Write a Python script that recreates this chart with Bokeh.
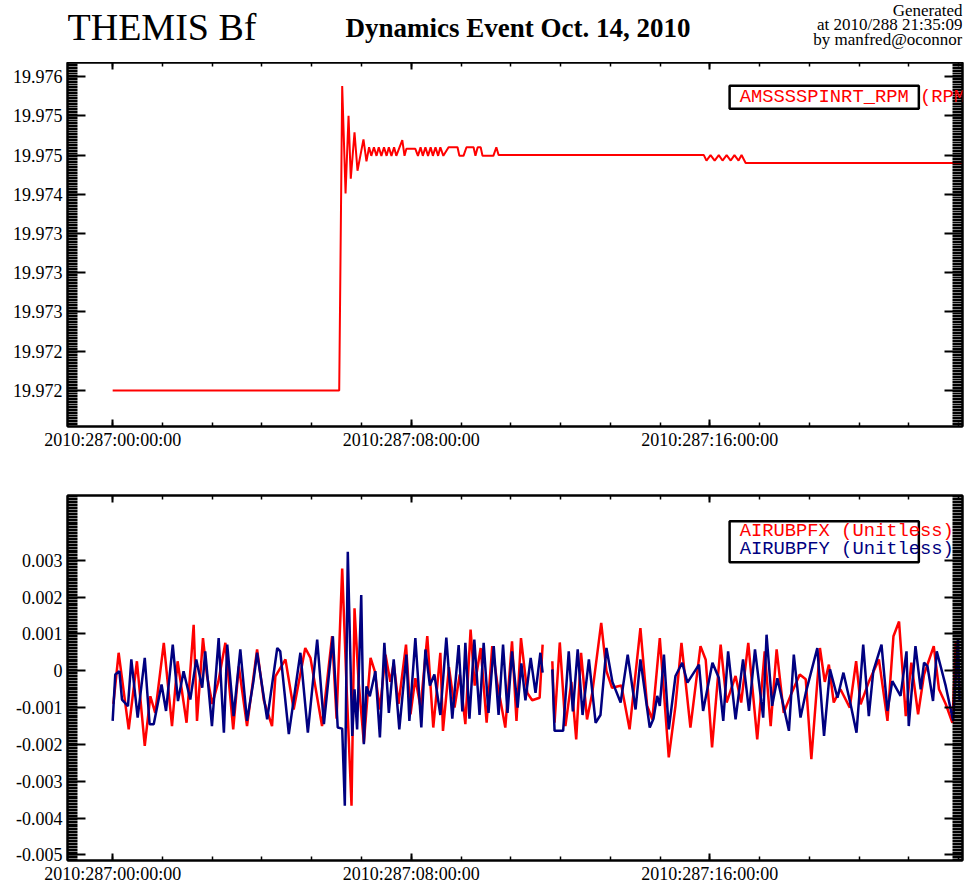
import numpy as np
from bokeh.plotting import figure
from bokeh.layouts import column
from bokeh.models import (LinearAxis, FixedTicker, Range1d, Label, BoxAnnotation,
                          CustomJSTickFormatter, ColumnDataSource)
from bokeh.embed import file_html
from bokeh.resources import INLINE

# ---------------- data ----------------
x_major_ticks = [0, 8, 16]
x_tick_labels = ["2010:287:00:00:00", "2010:287:08:00:00", "2010:287:16:00:00"]

rpm_ticks = [19.9720, 19.9725, 19.9730, 19.9735, 19.9740, 19.9745, 19.9750, 19.9755, 19.9760]
rpm_tick_labels = ["19.972", "19.972", "19.973", "19.973", "19.973", "19.974", "19.975", "19.975", "19.976"]

bp_ticks = [-0.005, -0.004, -0.003, -0.002, -0.001, 0.0, 0.001, 0.002, 0.003]
bp_tick_labels = ["-0.005", "-0.004", "-0.003", "-0.002", "-0.001", "0", "0.001", "0.002", "0.003"]

# AMSSSSPINRT_RPM (hours since 2010:287:00:00:00, RPM)
rpm_hours = [0.00, 6.07, 6.15, 6.24, 6.32, 6.38, 6.48, 6.56, 6.72, 6.80,
             6.87, 6.93, 7.00, 7.07, 7.13, 7.20, 7.27, 7.34, 7.40, 7.47,
             7.54, 7.60, 7.67, 7.76, 7.82, 7.87, 8.11, 8.18, 8.25, 8.31,
             8.38, 8.45, 8.52, 8.58, 8.65, 8.72, 8.78, 8.86, 9.00, 9.24,
             9.29, 9.40, 9.48, 9.67, 9.72, 9.78, 9.86, 9.91, 10.20, 10.28,
             10.34, 15.84, 15.91, 16.02, 16.13, 16.24, 16.34, 16.45, 16.56, 16.66,
             16.77, 16.85, 16.96, 22.77]
rpm_values = [19.97200, 19.97200, 19.97588, 19.97451, 19.97550, 19.97470, 19.97529, 19.97480, 19.97520, 19.97492,
              19.97510, 19.97499, 19.97510, 19.97499, 19.97510, 19.97499, 19.97510, 19.97499, 19.97510, 19.97499,
              19.97510, 19.97499, 19.97508, 19.97519, 19.97499, 19.97508, 19.97508, 19.97499, 19.97510, 19.97499,
              19.97510, 19.97499, 19.97510, 19.97499, 19.97510, 19.97499, 19.97510, 19.97499, 19.97510, 19.97510,
              19.97499, 19.97499, 19.97510, 19.97510, 19.97499, 19.97510, 19.97510, 19.97499, 19.97499, 19.97510,
              19.97500, 19.97500, 19.97493, 19.97500, 19.97493, 19.97500, 19.97493, 19.97500, 19.97493, 19.97500,
              19.97493, 19.97500, 19.97490, 19.97490]

NAN = float("nan")

# AIRUBPFX (unitless)
bpfx_hours = [0.02, 0.16, 0.43, 0.65, 0.86, 1.01, 1.14, 1.37, 1.59, 1.74,
              1.98, 2.17, 2.26, 2.42, 2.53, 2.67, 2.83, 3.02, 3.23, 3.38,
              3.60, 3.87, 4.05, 4.27, 4.36, 4.63, 4.85, 5.16, 5.30, 5.61,
              5.88, 6.00, 6.15, 6.27, 6.40, 6.48, 6.59, 6.73, 6.91, 7.02,
              7.16, 7.31, 7.44, 7.53, 7.66, 7.86, 7.98, 8.11, 8.25, 8.43,
              8.59, 8.78, 8.85, 9.01, 9.16, 9.30, 9.45, 9.59, 9.70, 9.86,
              10.02, 10.17, 10.30, 10.52, 10.70, 10.82, 10.94, 11.11, 11.24, 11.44,
              11.52, 11.65, 11.78, 11.84, 11.98, 12.13, 12.29, 12.42, 12.55, 12.71,
              12.85, 13.09, 13.23, 13.38, 13.63, 13.85, 14.14, 14.32, 14.46, 14.66,
              14.90, 15.08, 15.24, 15.48, 15.75, 15.89, 16.06, 16.29, 16.45, 16.69,
              16.84, 17.03, 17.27, 17.47, 17.63, 17.79, 17.98, 18.16, 18.41, 18.57,
              18.72, 18.95, 19.08, 19.19, 19.32, 19.50, 19.75, 19.92, 20.04, 20.26,
              20.53, 20.76, 20.92, 21.07, 21.25, 21.40, 21.58, 21.74, 22.00, 22.14,
              22.32, 22.50, 22.59, 22.69]
bpfx_values = [-0.00090, 0.00049, -0.00159, 0.00026, -0.00204, -0.00069, -0.00114, 0.00076, -0.00150, 0.00026,
               -0.00141, 0.00125, -0.00136, 0.00089, -0.00015, -0.00090, -0.00030, 0.00076, -0.00159, 0.00012,
               -0.00150, 0.00058, -0.00080, -0.00150, -0.00015, 0.00031, -0.00105, 0.00062, 0.00035, -0.00150,
               0.00094, -0.00130, 0.00278, -0.00050, -0.00366, 0.00170, -0.00030, -0.00195, 0.00035, 0.00000,
               -0.00105, 0.00044, -0.00030, 0.00020, -0.00090, 0.00071, -0.00118, -0.00020, -0.00100, 0.00094,
               -0.00154, 0.00049, -0.00163, 0.00010, -0.00100, -0.00010, -0.00145, 0.00112, -0.00040, 0.00062,
               -0.00141, 0.00067, -0.00030, -0.00154, 0.00080, -0.00136, 0.00089, -0.00060, -0.00080, -0.00073,
               0.00071, NAN, 0.00026, -0.00141, 0.00077, -0.00150, -0.00030, -0.00186, 0.00049, -0.00132,
               -0.00060, 0.00130, -0.00001, -0.00046, -0.00040, -0.00159, 0.00116, -0.00095, -0.00132, 0.00089,
               -0.00235, -0.00095, 0.00076, -0.00154, 0.00067, 0.00030, -0.00208, 0.00071, -0.00086, -0.00014,
               -0.00086, 0.00076, -0.00186, 0.00053, -0.00150, 0.00058, -0.00114, -0.00068, -0.00010, -0.00023,
               -0.00240, 0.00062, -0.00030, 0.00017, -0.00086, -0.00050, -0.00100, 0.00026, -0.00091, -0.00030,
               0.00031, -0.00136, 0.00094, 0.00134, -0.00123, 0.00022, -0.00118, -0.00010, 0.00067, -0.00050,
               -0.00090, -0.00141, 0.00076, -0.00050]

# AIRUBPFY (unitless)
bpfy_hours = [0.00, 0.07, 0.18, 0.25, 0.41, 0.50, 0.67, 0.86, 0.99, 1.10,
              1.31, 1.43, 1.61, 1.75, 1.90, 2.08, 2.24, 2.40, 2.48, 2.66,
              2.84, 2.98, 3.07, 3.24, 3.42, 3.60, 3.77, 3.87, 4.14, 4.41,
              4.49, 4.72, 5.03, 5.23, 5.48, 5.66, 5.90, 6.03, 6.15, 6.22,
              6.30, 6.42, 6.48, 6.55, 6.66, 6.73, 6.80, 6.89, 7.04, 7.16,
              7.28, 7.40, 7.53, 7.68, 7.87, 7.95, 8.11, 8.27, 8.38, 8.50,
              8.62, 8.78, 8.94, 9.10, 9.27, 9.37, 9.45, 9.56, 9.69, 9.83,
              9.94, 10.07, 10.21, 10.34, 10.46, 10.58, 10.70, 10.85, 10.95, 11.06,
              11.20, 11.33, 11.46, 11.52, 11.65, 11.78, 11.84, 12.07, 12.22, 12.33,
              12.46, 12.59, 12.76, 12.94, 13.07, 13.23, 13.39, 13.61, 13.80, 14.01,
              14.14, 14.39, 14.49, 14.59, 14.66, 14.77, 14.90, 15.08, 15.26, 15.40,
              15.71, 15.82, 16.07, 16.24, 16.36, 16.49, 16.69, 16.89, 17.05, 17.21,
              17.43, 17.52, 17.67, 17.81, 18.12, 18.25, 18.43, 18.57, 18.88, 19.06,
              19.22, 19.42, 19.58, 19.77, 19.93, 20.11, 20.26, 20.38, 20.60, 20.76,
              20.89, 21.11, 21.27, 21.33, 21.51, 21.65, 21.74, 21.83, 21.98, 22.08,
              22.32, 22.52, 22.65, 22.69]
bpfy_values = [-0.00136, -0.00010, -0.00001, -0.00078, -0.00096, 0.00031, -0.00127, 0.00035, -0.00145, -0.00145,
               -0.00037, -0.00109, 0.00071, -0.00082, -0.00001, -0.00078, 0.00031, -0.00046, 0.00053, -0.00150,
               0.00089, -0.00168, 0.00071, -0.00123, 0.00058, -0.00136, -0.00030, 0.00049, -0.00132, 0.00062,
               0.00053, -0.00172, 0.00049, -0.00168, 0.00085, -0.00145, 0.00094, -0.00154, -0.00157, -0.00366,
               0.00323, -0.00177, -0.00050, -0.00159, 0.00206, -0.00199, -0.00042, -0.00069, -0.00001, -0.00181,
               0.00076, -0.00114, 0.00031, -0.00159, 0.00044, -0.00136, 0.00089, -0.00154, 0.00058, -0.00040,
               -0.00010, -0.00120, 0.00090, -0.00130, 0.00070, -0.00110, 0.00076, -0.00130, 0.00085, -0.00120,
               0.00076, -0.00114, 0.00067, -0.00120, 0.00071, -0.00114, 0.00053, -0.00100, 0.00020, -0.00080,
               0.00035, -0.00060, 0.00049, -0.00005, NAN, 0.00004, -0.00163, -0.00163, 0.00053, -0.00110,
               0.00058, -0.00120, 0.00031, -0.00141, -0.00120, 0.00062, -0.00030, -0.00086, 0.00044, -0.00105,
               0.00031, -0.00154, -0.00130, -0.00068, -0.00095, 0.00044, -0.00159, -0.00014, 0.00022, -0.00032,
               0.00017, -0.00109, 0.00022, -0.00019, -0.00136, 0.00053, -0.00132, 0.00031, -0.00109, 0.00058,
               -0.00127, 0.00098, -0.00095, -0.00020, -0.00163, 0.00044, -0.00127, -0.00060, 0.00062, -0.00177,
               0.00004, -0.00073, -0.00005, -0.00090, -0.00168, 0.00071, -0.00123, -0.00001, 0.00071, -0.00109,
               -0.00028, -0.00068, 0.00053, -0.00150, 0.00067, -0.00050, 0.00022, 0.00013, -0.00082, 0.00053,
               -0.00041, -0.00136, 0.00089, -0.00080]

# ---------------- styling helpers ----------------
SERIF = "Liberation Serif"
MONO = "Liberation Mono"
RED = "#ff0000"
NAVY = "#000080"


def labels_formatter(labels):
    return CustomJSTickFormatter(args=dict(labels=labels), code="return labels[index];")


def style_axis(ax, tick_in, minor_in, show_labels=True):
    ax.axis_line_color = "black"
    ax.axis_line_width = 2
    ax.major_tick_line_color = "black"
    ax.major_tick_line_width = 2
    ax.minor_tick_line_color = "black"
    ax.minor_tick_line_width = 1.5
    ax.major_tick_in = tick_in
    ax.major_tick_out = 0
    ax.minor_tick_in = minor_in
    ax.minor_tick_out = 0
    if show_labels:
        ax.major_label_text_font = SERIF
        ax.major_label_text_font_size = "18px"
        ax.major_label_text_color = "black"
    else:
        ax.major_label_text_font_size = "0px"
        ax.major_label_standoff = 0
        ax.major_label_text_alpha = 0


def x_ticker():
    minors = list(np.arange(-1.0 - 1.0 / 3.0, 23.0, 4.0 / 3.0))
    return FixedTicker(ticks=x_major_ticks, minor_ticks=minors)


def make_panel(height, y_range, y_ticks, y_labels, minor_step, top_border, bottom_border):
    p = figure(width=977, height=height, x_range=Range1d(-1.21, 22.77), y_range=y_range,
               output_backend="svg", toolbar_location=None, title=None,
               x_axis_type=None, y_axis_type=None,
               min_border_left=67, min_border_right=15,
               min_border_top=top_border, min_border_bottom=bottom_border)
    p.outline_line_color = "black"
    p.outline_line_width = 2
    p.background_fill_color = "white"
    p.border_fill_color = "white"

    y_minor = list(np.arange(y_ticks[0] - 2 * (y_ticks[1] - y_ticks[0]),
                             y_ticks[-1] + 2 * (y_ticks[1] - y_ticks[0]), minor_step))
    yt = FixedTicker(ticks=y_ticks, minor_ticks=y_minor)

    left = LinearAxis(ticker=yt, formatter=labels_formatter(y_labels))
    style_axis(left, 18, 10)
    left.major_label_standoff = 5
    p.add_layout(left, "left")

    right = LinearAxis(ticker=FixedTicker(ticks=y_ticks, minor_ticks=y_minor),
                       formatter=labels_formatter(y_labels))
    style_axis(right, 18, 10, show_labels=False)
    p.add_layout(right, "right")

    below = LinearAxis(ticker=x_ticker(), formatter=labels_formatter(x_tick_labels))
    style_axis(below, 7, 4)
    below.major_label_standoff = 3
    p.add_layout(below, "below")

    above = LinearAxis(ticker=x_ticker(), formatter=labels_formatter(x_tick_labels))
    style_axis(above, 7, 4, show_labels=False)
    p.add_layout(above, "above")
    return p


# ---------------- header (text positions in page pixels) ----------------
header = figure(width=977, height=62, x_range=Range1d(67, 962), y_range=Range1d(62, 0),
                output_backend="svg", toolbar_location=None, title=None,
                x_axis_type=None, y_axis_type=None,
                min_border_left=67, min_border_right=15,
                min_border_top=0, min_border_bottom=0)
header.outline_line_color = None
header.add_layout(Label(x=67, y=26, text="THEMIS Bf", text_font=SERIF, text_font_size="38px",
                        text_color="black", text_baseline="alphabetic"))
header.add_layout(Label(x=345, y=27, text="Dynamics Event Oct. 14, 2010", text_font=SERIF,
                        text_font_size="27px", text_font_style="bold", text_color="black",
                        text_baseline="alphabetic"))
for txt, yy in [("Generated", 10), ("at 2010/288 21:35:09", 24), ("by manfred@oconnor", 39)]:
    header.add_layout(Label(x=962, y=yy, text=txt, text_font=SERIF, text_font_size="17px",
                            text_color="black", text_align="right", text_baseline="alphabetic"))

# ---------------- top panel ----------------
p1 = make_panel(398, Range1d(19.97154, 19.97618), rpm_ticks, rpm_tick_labels, 0.00002, 0, 34)
src1 = ColumnDataSource(dict(t=rpm_hours, v=rpm_values))
p1.line("t", "v", source=src1, line_color=RED, line_width=2)
p1.add_layout(BoxAnnotation(left=16.53, right=21.60, bottom=19.975592, top=19.975885,
                            fill_color=None, fill_alpha=0, line_color="black", line_alpha=1.0,
                            line_width=2.5))
p1.add_layout(Label(x=16.80, y=19.97574, text="AMSSSSPINRT_RPM (RPM)", text_font=MONO,
                    text_font_size="18.8px", text_color=RED, text_baseline="middle"))

# ---------------- bottom panel ----------------
p2 = make_panel(426, Range1d(-0.00515, 0.00476), bp_ticks, bp_tick_labels, 0.00004, 35, 24)
src_x = ColumnDataSource(dict(t=bpfx_hours, v=bpfx_values))
src_y = ColumnDataSource(dict(t=bpfy_hours, v=bpfy_values))
p2.line("t", "v", source=src_x, line_color=RED, line_width=2.5)
p2.line("t", "v", source=src_y, line_color=NAVY, line_width=2.5)
p2.add_layout(BoxAnnotation(left=16.53, right=21.60, bottom=0.00295, top=0.00406,
                            fill_color=None, fill_alpha=0, line_color="black", line_alpha=1.0,
                            line_width=2.5))
p2.add_layout(Label(x=16.80, y=0.00379, text="AIRUBPFX (Unitless)", text_font=MONO,
                    text_font_size="18.8px", text_color=RED, text_baseline="middle"))
p2.add_layout(Label(x=16.80, y=0.00330, text="AIRUBPFY (Unitless)", text_font=MONO,
                    text_font_size="18.8px", text_color=NAVY, text_baseline="middle"))

layout = column(header, p1, p2, spacing=0)
open("out.html", "w").write(file_html(layout, INLINE))
